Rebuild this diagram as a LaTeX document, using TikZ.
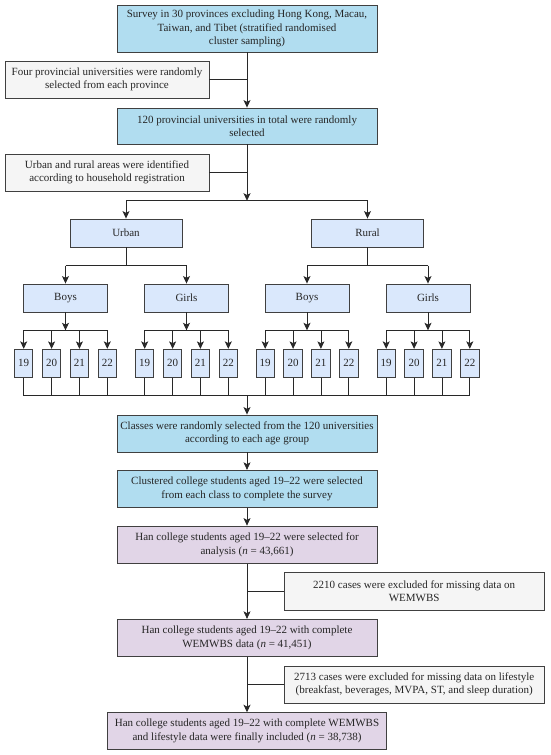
\documentclass[tikz,border=0pt]{standalone}
\usepackage{fontspec}
\setmainfont{Liberation Serif}
\usetikzlibrary{arrows.meta}
\definecolor{mainblue}{RGB}{177,221,240}
\definecolor{paleblue}{RGB}{218,232,252}
\definecolor{purp}{RGB}{225,213,231}
\definecolor{sidegray}{RGB}{245,245,245}
\definecolor{edge}{RGB}{64,64,64}
\definecolor{linec}{RGB}{40,40,40}
\begin{document}
\begin{tikzpicture}[x=1pt,y=-1pt,
  box/.style={draw=edge, line width=0.9pt, align=center, inner sep=0pt,
    text=black!85, font=\fontsize{11}{13.3}\selectfont},
  mainbox/.style={box, fill=mainblue, minimum width=260pt, minimum height=37pt},
  purpbox/.style={box, fill=purp, minimum width=260pt, minimum height=37pt},
  sidebox/.style={box, fill=sidegray, minimum width=204pt, minimum height=37pt},
  exclbox/.style={box, fill=sidegray, minimum width=260pt, minimum height=37pt},
  catbox/.style={box, fill=paleblue, minimum width=112pt, minimum height=28pt},
  sexbox/.style={box, fill=paleblue, minimum width=84pt, minimum height=28pt},
  agebox/.style={box, fill=paleblue, minimum width=18.4pt, minimum height=28pt},
  ln/.style={line width=0.8pt, draw=linec},
  arr/.style={ln, -{Stealth[length=7.5pt,width=7pt,inset=1.8pt]}}]

\useasboundingbox (0,0) rectangle (550,755);

\node[mainbox, minimum height=47pt] (b1) at (247,28.5)
  {Survey in 30 provinces excluding Hong Kong, Macau,\\Taiwan, and Tibet (stratified randomised\\cluster sampling)};
\node[sidebox] (s1) at (107,79.5)
  {Four provincial universities were randomly\\selected from each province};
\node[mainbox, minimum height=36pt] (b2) at (247,126)
  {120 provincial universities in total were randomly\\selected};
\node[sidebox] (s2) at (107,172.5)
  {Urban and rural areas were identified\\according to household registration};

\node[catbox] (urban) at (126,233) {Urban};
\node[catbox] (rural) at (367.5,233) {Rural};

\node[sexbox] (ub) at (65.5,298) {Boys};
\node[sexbox] (ug) at (186.5,298) {Girls};
\node[sexbox] (rb) at (307,298) {Boys};
\node[sexbox] (rg) at (428,298) {Girls};

\foreach \g/\c in {ub/65.5, ug/186.5, rb/307, rg/428} {
  \node[agebox] (\g19) at ({\c-41.8},363.3) {19};
  \node[agebox] (\g20) at ({\c-13.9},363.3) {20};
  \node[agebox] (\g21) at ({\c+13.9},363.3) {21};
  \node[agebox] (\g22) at ({\c+41.8},363.3) {22};
}

\node[mainbox] (cl) at (247,433.5)
  {Classes were randomly selected from the 120 universities\\according to each age group};
\node[mainbox] (cs) at (247,488.8)
  {Clustered college students aged 19--22 were selected\\from each class to complete the survey};
\node[purpbox, minimum height=37.3pt] (h1) at (247,544.7)
  {Han college students aged 19--22 were selected for\\analysis (\textit{n} = 43,661)};
\node[exclbox, minimum height=37.3pt] (e1) at (414.2,591.3)
  {2210 cases were excluded for missing data on\\WEMWBS};
\node[purpbox] (h2) at (247,637.8)
  {Han college students aged 19--22 with complete\\WEMWBS data (\textit{n} = 41,451)};
\node[exclbox] (e2) at (414.2,684.5)
  {2713 cases were excluded for missing data on lifestyle\\(breakfast, beverages, MVPA, ST, and sleep duration)};
\node[purpbox, minimum width=279pt, minimum height=36.6pt] (h3) at (247,731)
  {Han college students aged 19--22 with complete WEMWBS\\and lifestyle data were finally included (\textit{n} = 38,738)};

% junctions
\coordinate (j0) at (247,200.7);
\coordinate (jur) at (126,265.5);
\coordinate (jru) at (367.5,265.5);
\coordinate (jub) at (65.5,330.3);
\coordinate (jug) at (186.5,330.3);
\coordinate (jrb) at (307,330.3);
\coordinate (jrg) at (428,330.3);
\coordinate (jbot) at (247,395.5);

% top chain
\draw[arr] (b1) -- (b2);
\draw[ln] (s1.east) -- (s1.east -| b1.south);
\draw[arr] (b2) -- (j0);
\draw[ln] (s2.east) -- (s2.east -| b2.south);
\draw[ln] (urban |- j0) -- (rural |- j0);
\draw[arr] (urban |- j0) -- (urban);
\draw[arr] (rural |- j0) -- (rural);

% urban / rural to sexes
\draw[ln] (urban) -- (jur);
\draw[ln] (ub |- jur) -- (ug |- jur);
\draw[arr] (ub |- jur) -- (ub);
\draw[arr] (ug |- jur) -- (ug);
\draw[ln] (rural) -- (jru);
\draw[ln] (rb |- jru) -- (rg |- jru);
\draw[arr] (rb |- jru) -- (rb);
\draw[arr] (rg |- jru) -- (rg);

% sexes to ages and ages to bottom line
\foreach \g in {ub, ug, rb, rg} {
  \draw[arr] (\g) -- (j\g);
  \draw[ln] (\g19 |- j\g) -- (\g22 |- j\g);
  \foreach \a in {19,20,21,22} {
    \draw[arr] (\g\a |- j\g) -- (\g\a);
    \draw[ln] (\g\a) -- (\g\a |- jbot);
  }
}
\draw[ln] (ub19 |- jbot) -- (rg22 |- jbot);
\draw[arr] (jbot) -- (cl);

% lower chain
\draw[arr] (cl) -- (cs);
\draw[arr] (cs) -- (h1);
\draw[arr] (h1) -- (h2);
\draw[ln] (e1.west) -- (e1.west -| h1.south);
\draw[arr] (h2) -- (h3);
\draw[ln] (e2.west) -- (e2.west -| h2.south);
\end{tikzpicture}
\end{document}
